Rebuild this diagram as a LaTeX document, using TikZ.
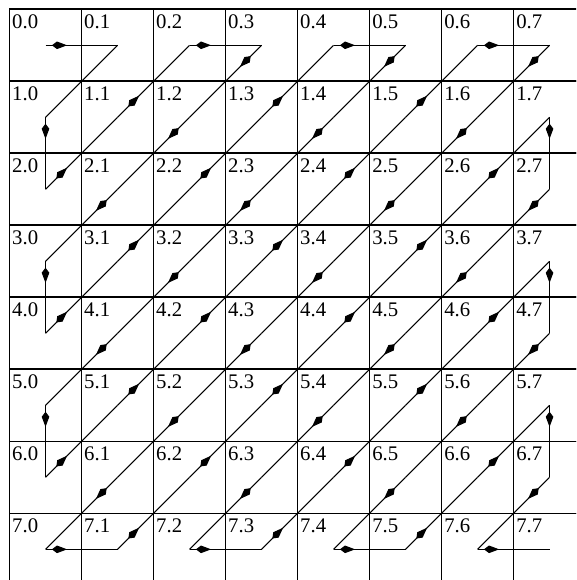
\documentclass[tikz,border=0pt]{standalone}
\usepackage{fontspec}
\setmainfont{Liberation Serif}
\usetikzlibrary{arrows.meta,decorations.markings}
\tikzset{
  cell/.style={
    shape = rectangle,
    draw,
    line width = 0.65pt,
    inner sep = 0pt,
    minimum size = 1cm
  },
  cellno/.style={
    anchor = north west,
    inner xsep = 1.2pt,
    inner ysep = 2.2pt,
    font = \fontsize{8.2}{9}\selectfont
  },
  scanline/.style={
    line width = 0.4pt
  },
  scanstep/.style={
    scanline,
    decoration={markings,
      mark=at position 0.3 with {\arrow{Kite[length=6pt,width=3pt,inset=2pt]}}},
    postaction={decorate}
  }
}

\begin{document}
\begin{tikzpicture}
    \useasboundingbox (-0.132,0.129) rectangle (7.868,-7.926);
    \clip (-0.132,0.129) rectangle (7.868,-7.926);
    \foreach \r in {0,...,7}{
        \foreach \c in {0,...,7}{
            \node[cell] (c-\r-\c) at (\c+0.5,-\r-0.5) {};
            \node[cellno] (n-\r-\c) at (c-\r-\c.north west) {\r.\c};
        }
    }
    % first and last row
    \foreach \c in {0,2,4,6}{
        \pgfmathtruncatemacro\d{\c+1}
        \draw[scanstep] (c-0-\c.center) -- (c-0-\d.center);
        \draw[scanstep] (c-7-\c.center) -- (c-7-\d.center);
    }
    % first and last column
    \foreach \r in {1,3,5}{
        \pgfmathtruncatemacro\s{\r+1}
        \draw[scanstep] (c-\r-0.center) -- (c-\s-0.center);
        \draw[scanstep] (c-\r-7.center) -- (c-\s-7.center);
    }
    % diagonals
    \foreach \r in {0,...,6}{
        \foreach \c in {1,...,7}{
            \pgfmathtruncatemacro\s{\r+1}
            \pgfmathtruncatemacro\d{\c-1}
            \pgfmathtruncatemacro\k{\r+\c}
            \ifnum\k=1
                \draw[scanline] (c-\r-\c.center) -- (c-\s-\d.center);
            \else\ifodd\k
                \draw[scanstep] (c-\r-\c.center) -- (c-\s-\d.center);
            \else
                \draw[scanstep] (c-\s-\d.center) -- (c-\r-\c.center);
            \fi\fi
        }
    }
\end{tikzpicture}
\end{document}
